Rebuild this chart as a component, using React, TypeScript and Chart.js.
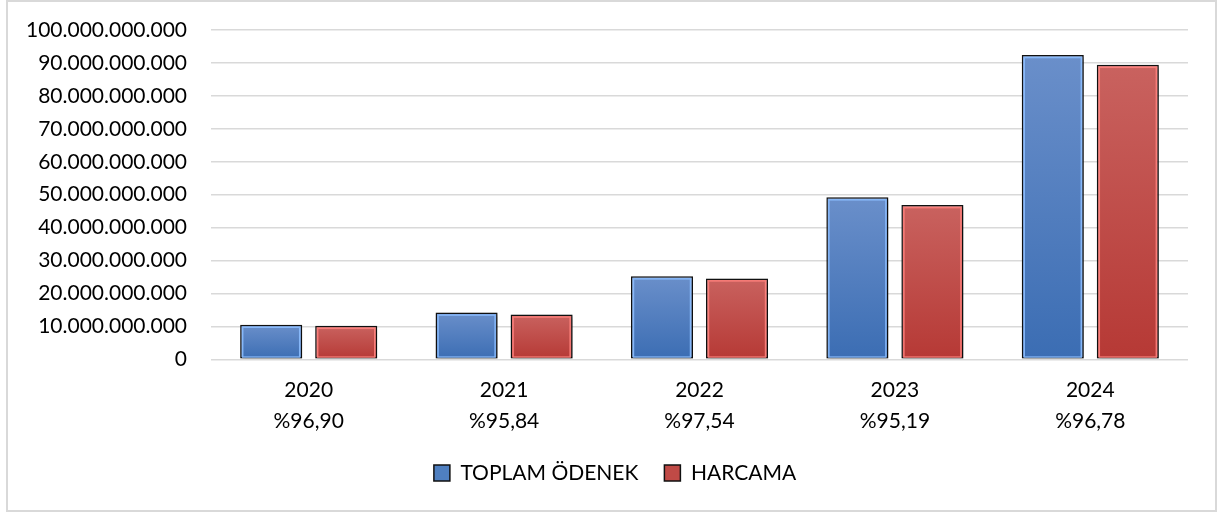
import React, { useEffect, useRef } from "react";
import { Chart, registerables } from "chart.js";

Chart.register(...registerables);

const years = ["2020", "2021", "2022", "2023", "2024"];
const ratios = ["%96,90", "%95,84", "%97,54", "%95,19", "%96,78"];
const toplamOdenek = [10500000000, 14200000000, 25200000000, 49200000000, 92400000000];
const harcama = [10170000000, 13610000000, 24580000000, 46830000000, 89420000000];
const seriesNames = ["TOPLAM ÖDENEK", "HARCAMA"];

const FONT = "Lato, 'Open Sans', sans-serif";

const fmt = (v: number) => String(Math.round(v)).replace(/\B(?=(\d{3})+(?!\d))/g, ".");

function barGradient(ctx: any, top: string, bottom: string, solid: string) {
  const chart = ctx.chart;
  const area = chart.chartArea;
  if (!area || ctx.raw === undefined || !chart.scales || !chart.scales.y) return solid;
  const yScale = chart.scales.y;
  const yTop = yScale.getPixelForValue(ctx.raw);
  const yBase = yScale.getPixelForValue(0);
  if (!isFinite(yTop) || !isFinite(yBase) || yTop === yBase) return solid;
  const g = chart.ctx.createLinearGradient(0, yTop, 0, yBase);
  g.addColorStop(0, top);
  g.addColorStop(1, bottom);
  return g;
}

const innerHighlight = {
  id: "innerHighlight",
  beforeDatasetDraw(chart: any) {
    const c = chart.ctx;
    c.save();
    c.shadowColor = "rgba(0,0,0,0.35)";
    c.shadowBlur = 4;
    c.shadowOffsetX = 1.5;
    c.shadowOffsetY = 2;
  },
  afterDatasetDraw(chart: any, args: any) {
    const c = chart.ctx;
    c.restore();
    const colors = ["rgba(140,190,255,0.9)", "rgba(255,130,125,0.9)"];
    const meta = chart.getDatasetMeta(args.index);
    c.save();
    c.strokeStyle = colors[args.index % 2];
    c.lineWidth = 1.5;
    meta.data.forEach((el: any) => {
      const p = el.getProps(["x", "y", "base", "width"], true);
      const left = p.x - p.width / 2 + 2.5;
      const right = p.x + p.width / 2 - 2.5;
      const top = Math.min(p.y, p.base) + 2.5;
      const bot = Math.max(p.y, p.base) - 1.5;
      if (bot > top) c.strokeRect(left, top, right - left, bot - top);
    });
    c.restore();
  },
};

// centre the legend under the whole chart box rather than the padded area
const legendShift = {
  id: "legendShift",
  afterLayout(chart: any) {
    const lg = chart.legend;
    if (lg) {
      lg.left += 17;
      lg.right += 17;
    }
  },
};

export default function App() {
  const ref = useRef<HTMLCanvasElement | null>(null);

  useEffect(() => {
    if (!ref.current) return;
    const chart = new Chart(ref.current, {
      type: "bar",
      data: {
        labels: years.map((y, i) => [y, ratios[i]]),
        datasets: [
          {
            label: seriesNames[0],
            data: toplamOdenek,
            backgroundColor: (ctx: any) => barGradient(ctx, "#6a8fca", "#3b6db3", "#4f7fc0"),
            borderColor: "#111111",
            borderWidth: 1.5,
            borderSkipped: false,
          },
          {
            label: seriesNames[1],
            data: harcama,
            backgroundColor: (ctx: any) => barGradient(ctx, "#c9625f", "#b63935", "#c04a46"),
            borderColor: "#111111",
            borderWidth: 1.5,
            borderSkipped: false,
          },
        ],
      },
      options: {
        animation: false,
        responsive: false,
        maintainAspectRatio: false,
        datasets: { bar: { categoryPercentage: 0.768, barPercentage: 0.827 } },
        layout: { padding: { top: 28, right: 27, bottom: 16.5, left: 0 } },
        plugins: {
          tooltip: { enabled: false },
          legend: {
            position: "bottom",
            labels: {
              font: { family: FONT, size: 21 },
              color: "#000000",
              boxWidth: 16,
              boxHeight: 16,
              padding: 26,
              generateLabels: () => [
                { text: seriesNames[0], fillStyle: "#4f7fc0", strokeStyle: "#111111", lineWidth: 1.5, datasetIndex: 0, hidden: false },
                { text: seriesNames[1], fillStyle: "#c04a46", strokeStyle: "#111111", lineWidth: 1.5, datasetIndex: 1, hidden: false },
              ],
            },
          },
        },
        scales: {
          x: {
            grid: { display: false, drawTicks: true, tickLength: 15 },
            border: { display: false },
            ticks: {
              font: { family: FONT, size: 21, lineHeight: 1.48 },
              color: "#000000",
              padding: 0,
              maxRotation: 0,
            },
          },
          y: {
            min: 0,
            max: 100000000000,
            afterFit: (scale: any) => {
              scale.width = 203;
            },
            grid: {
              color: "#d9d9d9",
              lineWidth: 1.5,
              drawTicks: true,
              tickLength: 20,
              tickColor: "rgba(0,0,0,0)",
            },
            border: { display: false },
            ticks: {
              stepSize: 10000000000,
              font: { family: FONT, size: 21 },
              color: "#000000",
              padding: 4,
              callback: (v: any) => fmt(Number(v)),
            },
          },
        },
      },
      plugins: [innerHighlight, legendShift],
    } as any);
    return () => chart.destroy();
  }, []);

  return (
    <div
      style={{
        position: "absolute",
        left: 6,
        top: 0,
        width: 1211,
        height: 512,
        boxSizing: "border-box",
        border: "2px solid #d9d9d9",
        background: "#fff",
      }}
    >
      <canvas ref={ref} width={1207} height={508} style={{ display: "block" }} />
    </div>
  );
}
